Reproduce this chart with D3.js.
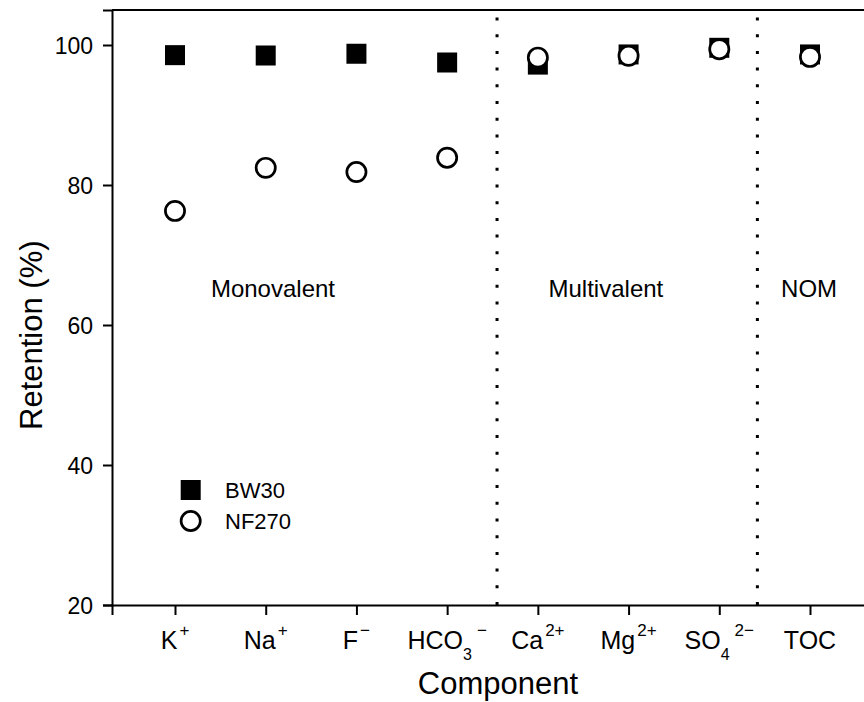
<!DOCTYPE html>
<html>
<head>
<meta charset="utf-8">
<script src="https://cdn.jsdelivr.net/npm/d3@7/dist/d3.min.js"></script>
<style>
  html, body { margin: 0; padding: 0; background: #fff; }
  svg { display: block; font-family: "Liberation Sans", Arial, sans-serif; }
</style>
</head>
<body>
<svg id="chart" width="864" height="702"></svg>
<script>
// Component labels: [base, subscript, superscript]
const components = [
  ["K", "", "+"],
  ["Na", "", "+"],
  ["F", "", "\u2212"],
  ["HCO", "3", "\u2212"],
  ["Ca", "", "2+"],
  ["Mg", "", "2+"],
  ["SO", "4", "2\u2212"],
  ["TOC", "", ""]
];
const positions = [1, 2, 3, 4, 5, 6, 7, 8];

// Retention (%) per membrane
const bw30  = [98.55, 98.5, 98.75, 97.5, 97.2, 98.65, 99.6, 98.65];
const nf270 = [76.3, 82.45, 81.85, 83.9, 98.2, 98.45, 99.4, 98.3];

const yTicks = [20, 40, 60, 80, 100];

// Group separators and group names
const separators = [4.55, 7.42];
const groups = [
  { name: "Monovalent", at: 2.08 },
  { name: "Multivalent", at: 5.75 },
  { name: "NOM", at: 7.99 }
];

const svg = d3.select("#chart");
const plotL = 112, plotT = 10, plotB = 605, plotR = 873.5;

const x = d3.scaleLinear().domain([0.3055, 8.7]).range([plotL, plotR]);
const y = d3.scaleLinear().domain([20, 105]).range([plotB, plotT]);

// top frame line
svg.append("line").attr("x1", plotL).attr("x2", plotR).attr("y1", plotT).attr("y2", plotT)
  .attr("stroke", "#000").attr("stroke-width", 2);

// y axis
const yAxis = svg.append("g").attr("transform", `translate(${plotL},0)`)
  .call(d3.axisLeft(y).tickValues(yTicks).tickSize(9).tickPadding(10));
yAxis.select(".domain").attr("stroke-width", 2);
yAxis.selectAll(".tick line").attr("stroke-width", 2);
yAxis.selectAll(".tick text").attr("font-size", 23).attr("fill", "#000")
  .attr("font-family", "Liberation Sans, Arial, sans-serif").attr("dy", "0.36em");

// x axis
const xAxis = svg.append("g").attr("transform", `translate(0,${plotB})`)
  .call(d3.axisBottom(x).tickValues(positions).tickSize(10).tickFormat(""));
xAxis.select(".domain").attr("stroke-width", 2);
xAxis.selectAll(".tick line").attr("stroke-width", 2);

// x tick labels with chemical sub/superscripts
const lab = svg.append("g").attr("font-size", 25).attr("fill", "#000")
  .attr("text-anchor", "middle");
components.forEach((c, i) => {
  const t = lab.append("text").attr("x", x(positions[i])).attr("y", 649);
  t.append("tspan").text(c[0]);
  if (c[1]) t.append("tspan").attr("font-size", 16).attr("dy", 11).text(c[1]);
  if (c[2]) t.append("tspan").attr("font-size", 17).attr("dx", c[1] ? 5 : 2)
    .attr("dy", c[1] ? -24 : -13).text(c[2]);
});

// axis titles
svg.append("text").attr("x", 498).attr("y", 694)
  .attr("text-anchor", "middle").attr("font-size", 31).text("Component");
svg.append("text").attr("transform", "translate(42,430) rotate(-90)")
  .attr("text-anchor", "start").attr("font-size", 31).text("Retention (%)");

// group separators
svg.selectAll(".sep").data(separators).enter().append("line")
  .attr("x1", d => x(d)).attr("x2", d => x(d))
  .attr("y1", plotB).attr("y2", plotT)
  .attr("stroke", "#000").attr("stroke-width", 3)
  .attr("stroke-dasharray", "3,13.7");

svg.selectAll(".grp").data(groups).enter().append("text")
  .attr("x", d => x(d.at)).attr("y", 297)
  .attr("text-anchor", "middle").attr("font-size", 24).text(d => d.name);

// markers
const sq = 20;
svg.selectAll(".bw").data(bw30).enter().append("rect")
  .attr("x", (d, i) => x(positions[i]) - sq / 2)
  .attr("y", d => y(d) - sq / 2)
  .attr("width", sq).attr("height", sq).attr("fill", "#000");

svg.selectAll(".nf").data(nf270).enter().append("circle")
  .attr("cx", (d, i) => x(positions[i]))
  .attr("cy", d => y(d))
  .attr("r", 9.6).attr("fill", "#fff").attr("stroke", "#000").attr("stroke-width", 2.7);

// legend
const lg = svg.append("g").attr("font-size", 22);
lg.append("rect").attr("x", 190.7 - sq / 2).attr("y", 490 - sq / 2)
  .attr("width", sq).attr("height", sq).attr("fill", "#000");
lg.append("text").attr("x", 225).attr("y", 498).text("BW30");
lg.append("circle").attr("cx", 190.7).attr("cy", 521).attr("r", 9.6)
  .attr("fill", "#fff").attr("stroke", "#000").attr("stroke-width", 2.7);
lg.append("text").attr("x", 225).attr("y", 529).text("NF270");
</script>
</body>
</html>
